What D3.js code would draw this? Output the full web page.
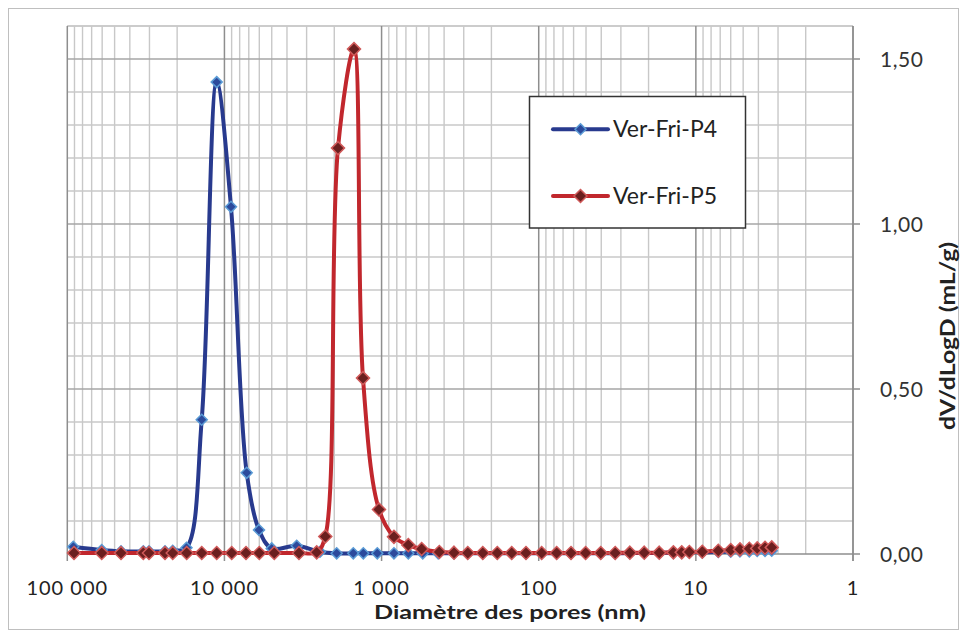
<!DOCTYPE html>
<html><head><meta charset="utf-8">
<script src="https://cdn.jsdelivr.net/npm/d3@7"></script>
<style>body{margin:0;background:#fff}svg{display:block}text{font-family:Lato,"Open Sans",sans-serif}</style>
</head><body>
<script>
// ---- data ----
const seriesNames = ["Ver-Fri-P4", "Ver-Fri-P5"];
const p4Diam = [91600,60400,45520,32830,30200,23890,21340,17440,13950,11200,9086,7217,6027,5003,3469,2466,1931,1514,1307,1065,834,676,547,436,346,283,227,183.5,148.6,120.5,95.8,76.9,62.3,50.3,40.3,32.6,26.3,21.3,17.1,13.9,12.3,11.0,9.1,7.2,6.0,5.24,4.57,4.07,3.63,3.29];
const p4Vals = [0.022,0.012,0.008,0.008,0.008,0.008,0.010,0.019,0.407,1.430,1.052,0.246,0.073,0.017,0.025,0.007,0.002,0.002,0.002,0.002,0.002,0.002,0.002,0.002,0.002,0.002,0.002,0.002,0.002,0.002,0.002,0.002,0.002,0.002,0.002,0.002,0.003,0.003,0.003,0.004,0.004,0.005,0.005,0.006,0.007,0.008,0.008,0.009,0.009,0.010];
const p5Diam = [90640,60400,45520,32830,30200,23890,21340,17390,13950,11200,8990,7290,6000,4818,3355,2588,2282,1894,1498,1313,1039,834,676,556,429,346,283,227,183.5,148.6,120.5,95.8,76.9,62.3,50.3,40.3,32.6,26.3,21.3,17.1,13.9,12.3,11.0,9.1,7.2,6.0,5.24,4.57,4.07,3.63,3.29];
const p5Vals = [0.003,0.003,0.003,0.003,0.003,0.003,0.003,0.003,0.003,0.003,0.003,0.003,0.003,0.003,0.003,0.005,0.053,1.230,1.530,0.533,0.135,0.052,0.027,0.015,0.006,0.004,0.003,0.003,0.003,0.003,0.003,0.003,0.003,0.003,0.003,0.003,0.003,0.004,0.004,0.004,0.005,0.005,0.006,0.007,0.010,0.012,0.014,0.016,0.017,0.019,0.020];
const xTicks = [100000, 10000, 1000, 100, 10, 1];
const xTickLabels = ["100 000", "10 000", "1 000", "100", "10", "1"];
const yTicks = [0, 0.5, 1.0, 1.5];
const yTickLabels = ["0,00", "0,50", "1,00", "1,50"];
const xTitle = "Diamètre des pores (nm)";
const yTitle = "dV/dLogD (mL/g)";

// ---- chart ----
const W = 967, H = 637;
const svg = d3.select("body").append("svg").attr("width", W).attr("height", H);
svg.append("rect").attr("x", 8.5).attr("y", 8.5).attr("width", 950).attr("height", 621)
  .attr("fill", "#fff").attr("stroke", "#bfbfbf").attr("stroke-width", 1);

const x = d3.scaleLog().domain([100000, 1]).range([67.3, 853]);
const y = d3.scaleLinear().domain([0, 1.6]).range([554, 26]);

const g = svg.append("g");
// minor vertical grid
const minorX = [];
for (let dec = 1; dec < 100000; dec *= 10) for (let k = 2; k <= 9; k++) minorX.push(dec * k);
g.selectAll(".mx").data(minorX).enter().append("line")
  .attr("x1", d => x(d)).attr("x2", d => x(d)).attr("y1", y(1.6)).attr("y2", y(0))
  .attr("stroke", "#c8c8c8").attr("stroke-width", 1.4);
// minor horizontal grid
const minorY = d3.range(1, 17).map(i => i / 10).filter(v => Math.abs(v * 2 - Math.round(v * 2)) > 1e-6);
g.selectAll(".my").data(minorY).enter().append("line")
  .attr("x1", x(100000)).attr("x2", x(1)).attr("y1", d => y(d)).attr("y2", d => y(d))
  .attr("stroke", "#c8c8c8").attr("stroke-width", 1.4);
// major horizontal grid
g.selectAll(".My").data([0.5, 1.0, 1.5]).enter().append("line")
  .attr("x1", x(100000)).attr("x2", x(1)).attr("y1", d => y(d)).attr("y2", d => y(d))
  .attr("stroke", "#a6a6a6").attr("stroke-width", 1.4);
g.append("line").attr("x1", x(100000)).attr("x2", x(1)).attr("y1", y(1.6)).attr("y2", y(1.6))
  .attr("stroke", "#c8c8c8").attr("stroke-width", 1.4);
// major vertical grid + ticks
g.selectAll(".Mx").data(xTicks).enter().append("line")
  .attr("x1", d => x(d)).attr("x2", d => x(d)).attr("y1", y(1.6)).attr("y2", y(0) + 7)
  .attr("stroke", "#8e8e8e").attr("stroke-width", 1.5);
// x axis line
g.append("line").attr("x1", x(100000)).attr("x2", x(1)).attr("y1", y(0)).attr("y2", y(0))
  .attr("stroke", "#8e8e8e").attr("stroke-width", 1.5);
// y axis (right)
g.append("line").attr("x1", x(1)).attr("x2", x(1)).attr("y1", y(1.6)).attr("y2", y(0) + 7)
  .attr("stroke", "#8e8e8e").attr("stroke-width", 1.5);
g.selectAll(".yt").data(yTicks).enter().append("line")
  .attr("x1", x(1)).attr("x2", x(1) + 7).attr("y1", d => y(d)).attr("y2", d => y(d))
  .attr("stroke", "#8e8e8e").attr("stroke-width", 1.5);

// tick labels
svg.selectAll(".xl").data(xTicks).enter().append("text")
  .attr("x", d => x(d)).attr("y", 595).attr("text-anchor", "middle")
  .attr("font-size", 20).attr("letter-spacing", 1).attr("fill", "#222")
  .text((d, i) => xTickLabels[i]);
svg.selectAll(".yl").data(yTicks).enter().append("text")
  .attr("x", 880).attr("y", d => y(d) + 7.5).attr("text-anchor", "start")
  .attr("font-size", 21).attr("letter-spacing", 0.5).attr("fill", "#333")
  .text((d, i) => yTickLabels[i]);
svg.append("text").attr("x", 510).attr("y", 619).attr("text-anchor", "middle")
  .attr("font-size", 19.5).attr("font-weight", "bold").attr("fill", "#222")
  .attr("textLength", 272).attr("lengthAdjust", "spacingAndGlyphs").text(xTitle);
svg.append("text").attr("transform", "translate(955,336) rotate(-90)").attr("text-anchor", "middle")
  .attr("font-size", 20).attr("font-weight", "bold").attr("fill", "#222")
  .attr("textLength", 188).attr("lengthAdjust", "spacingAndGlyphs").text(yTitle);

// series
const styles = [
  {line: "#283a8e", fill: "#2c4a9c", stroke: "#5b9bd5", size: 11},
  {line: "#c1272d", fill: "#6b1f1f", stroke: "#d05a5a", size: 13}
];
const data = [
  p4Diam.map((d, i) => [d, p4Vals[i]]),
  p5Diam.map((d, i) => [d, p5Vals[i]])
];
const lineGen = d3.line().x(d => x(d[0])).y(d => y(d[1])).curve(d3.curveCatmullRom.alpha(0.5));
const diamond = s => `M0,${-s/2}L${s/2},0L0,${s/2}L${-s/2},0Z`;
data.forEach((pts, si) => {
  const st = styles[si];
  svg.append("path").attr("d", lineGen(pts)).attr("fill", "none")
    .attr("stroke", st.line).attr("stroke-width", 4).attr("stroke-linejoin", "round").attr("stroke-linecap", "round");
  svg.selectAll(".m" + si).data(pts).enter().append("path")
    .attr("transform", d => `translate(${x(d[0])},${y(d[1])})`)
    .attr("d", diamond(st.size)).attr("fill", st.fill).attr("stroke", st.stroke).attr("stroke-width", 1.5);
});

// legend
const lg = svg.append("g");
lg.append("rect").attr("x", 529.5).attr("y", 96.5).attr("width", 216).attr("height", 131.5)
  .attr("fill", "#fff").attr("stroke", "#333").attr("stroke-width", 1.5);
seriesNames.forEach((name, i) => {
  const st = styles[i];
  const cy = i === 0 ? 129.3 : 196;
  lg.append("line").attr("x1", 553).attr("x2", 608).attr("y1", cy).attr("y2", cy)
    .attr("stroke", st.line).attr("stroke-width", 4).attr("stroke-linecap", "round");
  lg.append("path").attr("transform", `translate(580.5,${cy})`).attr("d", diamond(st.size))
    .attr("fill", st.fill).attr("stroke", st.stroke).attr("stroke-width", 1.5);
  lg.append("text").attr("x", 613).attr("y", cy + 8).attr("font-size", 23).attr("fill", "#222").text(name);
});
</script>
</body></html>
